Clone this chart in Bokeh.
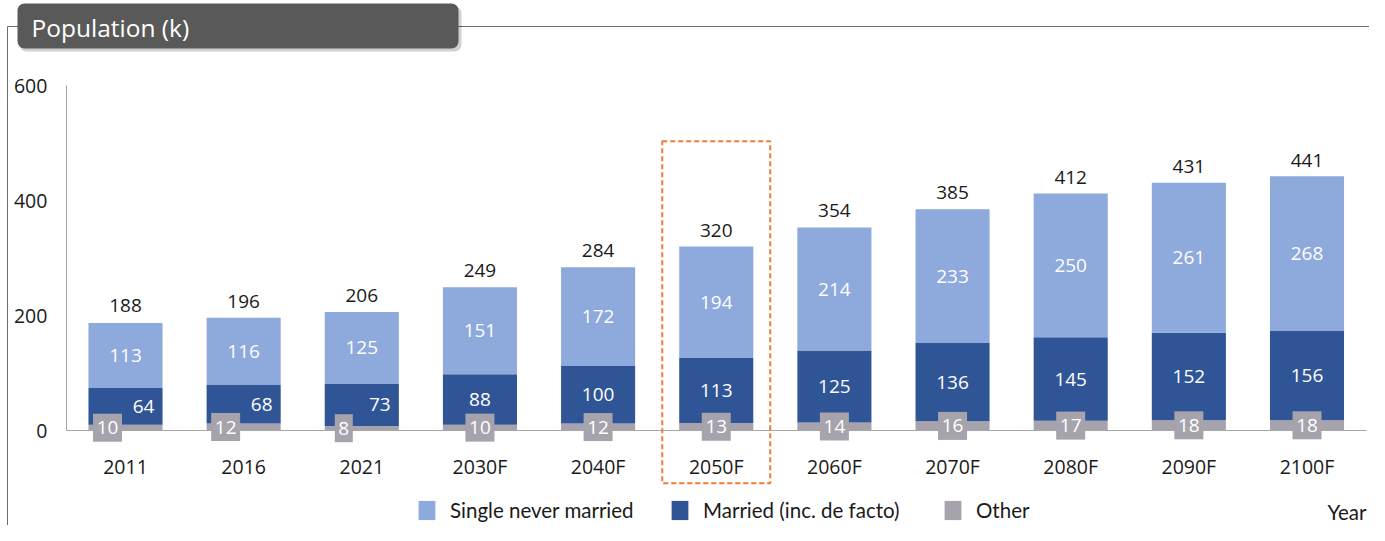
from bokeh.plotting import figure
from bokeh.models import (Range1d, LinearAxis, FixedTicker, ColumnDataSource, LabelSet,
                          Label, BoxAnnotation, Legend, LegendItem)
from bokeh.core.properties import value
from bokeh.embed import file_html
from bokeh.resources import INLINE

# ---------------- data ----------------
years = ["2011", "2016", "2021", "2030F", "2040F", "2050F", "2060F", "2070F", "2080F", "2090F", "2100F"]
other = [10, 12, 8, 10, 12, 13, 14, 16, 17, 18, 18]
married = [64, 68, 73, 88, 100, 113, 125, 136, 145, 152, 156]
single = [113, 116, 125, 151, 172, 194, 214, 233, 250, 261, 268]
totals = [188, 196, 206, 249, 284, 320, 354, 385, 412, 431, 441]
series_names = ["Single never married", "Married (inc. de facto)", "Other"]
y_ticks = [0, 200, 400, 600]
highlight = "2050F"
title_text = "Population (k)"
x_title = "Year"

# ---------------- style ----------------
C_SINGLE = "#8EA9DB"
C_MARRIED = "#2F5597"
C_OTHER = "#A6A3AD"
C_ORANGE = "#ED7D31"
FONT = "Open Sans"
LFONT = "Lato"
shifted = {"2011", "2016", "2021"}     # categories whose labels sit off-centre

W, H = 1369, 525
UX = 118.15          # px per category
UY = 0.575           # px per unit of population
def fx(px):          # canvas x pixel -> data x
    return (px - 125.0) / UX
def fy(py):          # canvas y pixel -> data y
    return (430.0 - py) / UY

n = len(years)
xs = list(range(n))
shift_px = [18 if y in shifted else 0 for y in years]

src = ColumnDataSource(dict(
    x=xs, year=years, other=other, married=married, single=single,
    total=totals, total_s=[str(t) for t in totals],
    other_s=[str(v) for v in other], married_s=[str(v) for v in married],
    single_s=[str(v) for v in single],
    single_y=[o + m + s / 2 for o, m, s in zip(other, married, single)],
    married_y=[o + m / 2 for o, m in zip(other, married)],
    other_y=[o / 2 for o in other],
    other_x=[x - d / UX for x, d in zip(xs, shift_px)],
    other_w=[7 + 11 * len(str(v)) for v in other],
    m_dx=shift_px,
))

p = figure(width=W, height=H, x_range=Range1d(fx(0), fx(W)),
           y_range=Range1d(fy(H), fy(0)),
           output_backend="svg", toolbar_location=None,
           x_axis_location=None, y_axis_location=None,
           min_border=0, min_border_left=0, min_border_right=0,
           min_border_top=0, min_border_bottom=0,
           outline_line_color=None, background_fill_color="white")
p.grid.visible = False

# outer frame
FRAME = "#6e6e6e"
p.line([fx(7), fx(7)], [fy(26), fy(H)], line_color=FRAME, line_width=1)
p.line([fx(7), fx(20)], [fy(26), fy(26)], line_color=FRAME, line_width=1)
p.line([fx(455), fx(W)], [fy(26), fy(26)], line_color=FRAME, line_width=1)

# axes
yaxis = LinearAxis(fixed_location=-0.5, bounds=(0, 600), ticker=FixedTicker(ticks=y_ticks),
                   major_tick_line_color=None, minor_tick_line_color=None,
                   axis_line_color="#a6a6a6", major_label_text_font=FONT,
                   major_label_text_font_size="19.5px", major_label_text_color="#1a1a1a",
                   major_label_standoff=13)
p.add_layout(yaxis, "left")
xaxis = LinearAxis(fixed_location=0, bounds=(-0.5, n - 0.5), ticker=FixedTicker(ticks=xs),
                   major_label_overrides={i: y for i, y in zip(xs, years)},
                   major_tick_line_color=None, minor_tick_line_color=None,
                   axis_line_color="#a6a6a6", major_label_text_font=FONT,
                   major_label_text_font_size="19.5px", major_label_text_color="#1a1a1a",
                   major_label_standoff=16)
p.add_layout(xaxis, "below")

# bars
rs = p.vbar_stack(["other", "married", "single"], x="x", width=0.627,
                  color=[C_OTHER, C_MARRIED, C_SINGLE], line_color=None, source=src)

# grey label boxes for "Other"
p.rect(x="other_x", y="other_y", width="other_w", height=28, width_units="screen",
       height_units="screen", fill_color=C_OTHER, line_color=None, source=src)

common = dict(text_font=value(FONT), text_font_size=value("19px"), text_align="center", source=src)
p.add_layout(LabelSet(x="x", y="single_y", text="single_s", text_color="white",
                      text_baseline="middle", **common))
p.add_layout(LabelSet(x="x", y="married_y", text="married_s", text_color="white",
                      text_baseline="middle", x_offset="m_dx", **common))
p.add_layout(LabelSet(x="other_x", y="other_y", text="other_s", text_color="white",
                      text_baseline="middle", **common))
p.add_layout(LabelSet(x="x", y="total", text="total_s", text_color="#1a1a1a",
                      text_baseline="alphabetic", y_offset=10, **common))

# highlight box
hi = years.index(highlight)
p.add_layout(BoxAnnotation(left=hi - 0.457, right=hi + 0.457, top=fy(140.7), bottom=fy(482.7),
                           fill_color=None, fill_alpha=0, line_color=C_ORANGE, line_alpha=1,
                           line_width=2, line_dash="5 3"))

# title box
p.add_layout(BoxAnnotation(left=fx(19), right=fx(461), top=fy(6), bottom=fy(51),
                           fill_color="black", fill_alpha=0.18, line_color=None,
                           border_radius=7))
p.add_layout(BoxAnnotation(left=fx(17), right=fx(458), top=fy(3), bottom=fy(48),
                           fill_color="#595959", fill_alpha=1, line_color=None,
                           border_radius=7))
p.add_layout(Label(x=fx(31), y=fy(27), text=title_text, text_color="white",
                   text_font=FONT, text_font_size="24.5px", text_baseline="middle"))

# legends (one per item, positioned individually)
legend_rs = [rs[2], rs[1], rs[0]]
for name, r, gx in zip(series_names, legend_rs, [416, 669, 942]):
    lg = Legend(items=[LegendItem(label=name, renderers=[r])],
                location=(gx, H - 522), orientation="horizontal",
                padding=0, margin=0, spacing=0, glyph_width=21, glyph_height=24,
                label_height=24, label_standoff=13, label_text_font=LFONT,
                label_text_font_size="20.5px", label_text_color="#1a1a1a",
                label_text_baseline="middle",
                border_line_color=None, background_fill_alpha=0)
    p.add_layout(lg)

p.add_layout(Label(x=fx(1366), y=fy(511), text=x_title, text_color="#1a1a1a",
                   text_font=LFONT, text_font_size="20.5px", text_align="right",
                   text_baseline="middle"))

open("out.html", "w").write(file_html(p, INLINE))
